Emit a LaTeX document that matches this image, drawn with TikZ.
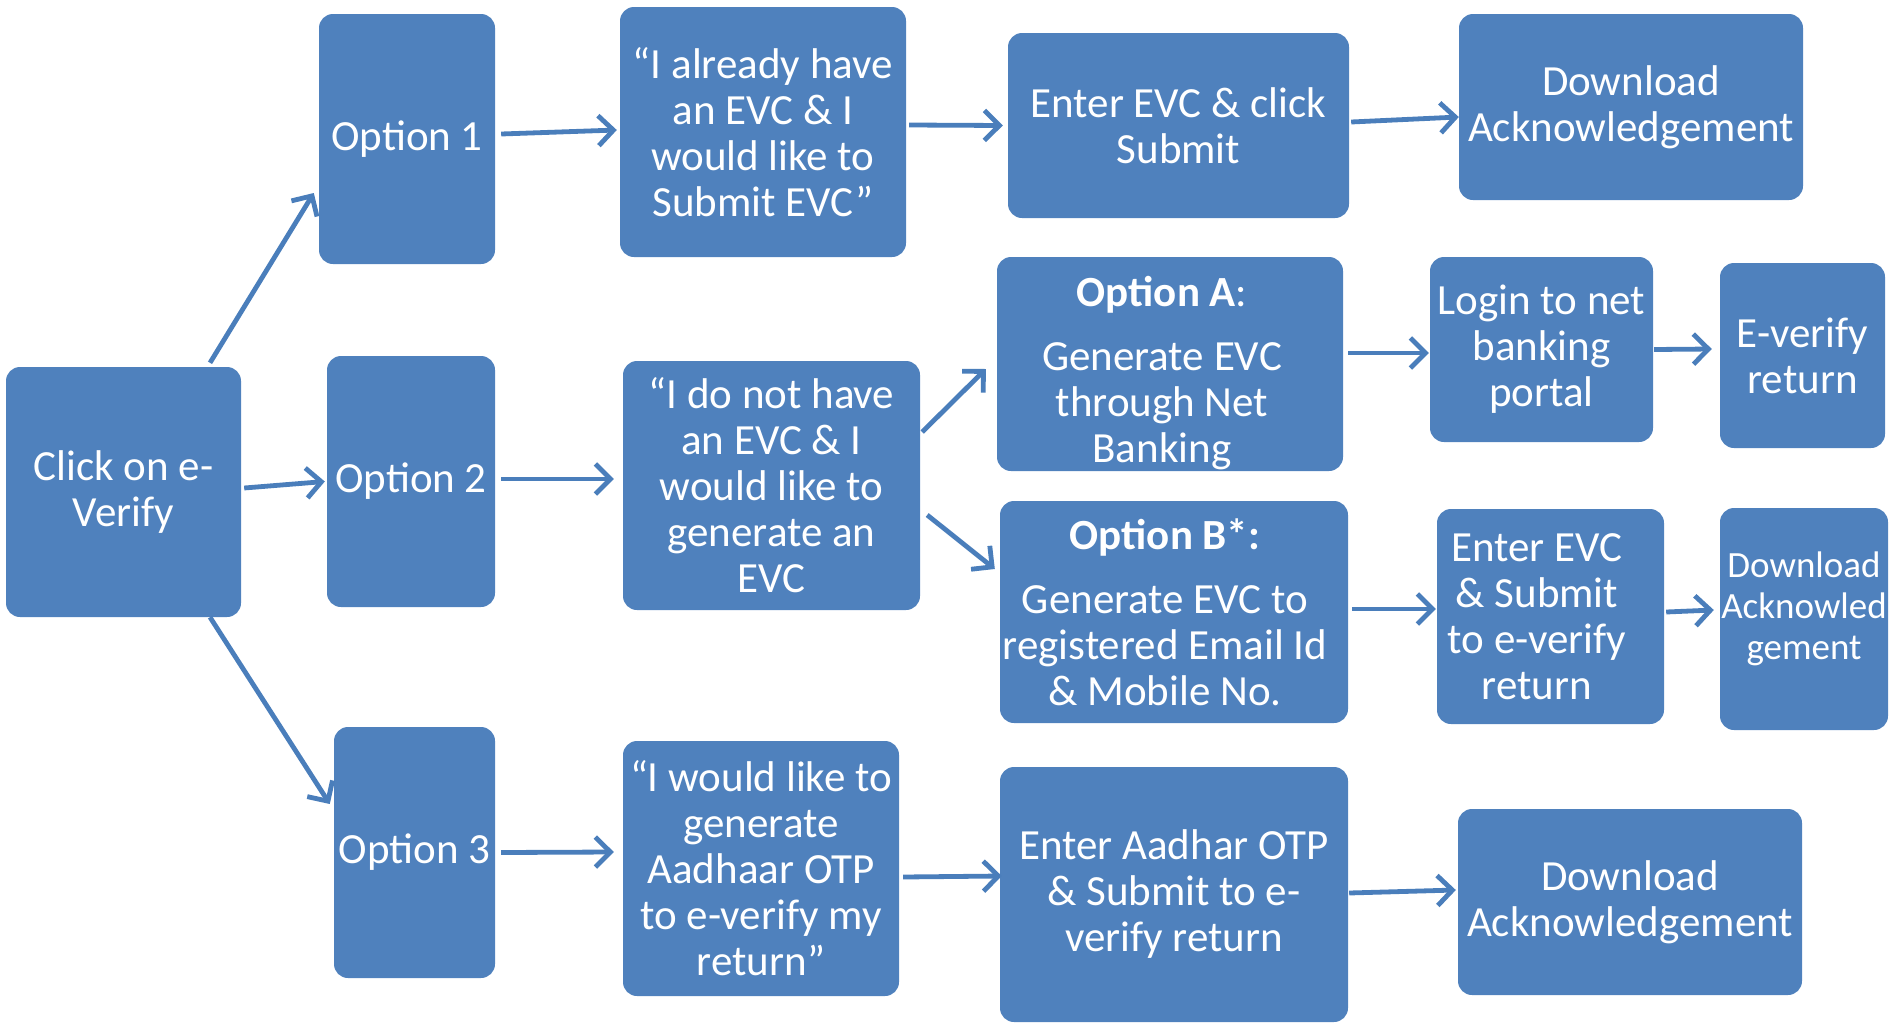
\documentclass[tikz,border=0pt]{standalone}
\usepackage{fontspec}
\setmainfont{Carlito}
\usetikzlibrary{arrows.meta}
\definecolor{accent}{HTML}{4F81BD}
\definecolor{linkblue}{HTML}{4A7EBB}
\tikzset{
  box/.style={fill=accent, rounded corners=14pt, text=white, align=center,
    inner sep=0pt, font=\fontsize{43}{46}\selectfont},
  boxtext/.style={text=white, align=center, inner sep=0pt,
    font=\fontsize{43}{46}\selectfont},
  smalltext/.style={text=white, align=center, inner sep=0pt,
    font=\fontsize{37}{41}\selectfont},
  flow/.style={draw=linkblue, line width=4.8pt,
    -{Straight Barb[length=15pt,width=30pt,line width=4.8pt]}},
}
\begin{document}
\begin{tikzpicture}[x=1pt,y=-1pt]
\useasboundingbox (0,0) rectangle (1891,1023);

% start
\node[box, minimum width=235pt, minimum height=250pt] (click) at (123.5,492) {Click on e-\\Verify};

% the three options
\node[box, minimum width=176pt, minimum height=250pt] (opt1) at (407,139) {Option 1};
\node[box, minimum width=168pt, minimum height=251pt] (opt2) at (411,481.5) {Option 2};
\node[box, minimum width=161pt, minimum height=251pt] (opt3) at (414.5,852.5) {Option 3};

% statements
\node[box, minimum width=286pt, minimum height=250pt] (q1) at (763,132)
  {“I already have\\an EVC \& I\\would like to\\Submit EVC”};
\node[box, minimum width=297pt, minimum height=249pt] (q2) at (771.5,485.5)
  {“I do not have\\an EVC \& I\\would like to\\generate an\\EVC};
\node[box, minimum width=276pt, minimum height=255pt] (q3) at (761,868.5)
  {“I would like to\\generate\\Aadhaar OTP\\to e-verify my\\return”};

% option 1 path
\node[box, minimum width=341pt, minimum height=185pt] (enter1) at (1178.5,125.5) {Enter EVC \& click\\Submit};
\node[box, minimum width=344pt, minimum height=186pt] (dl1) at (1631,107) {Download\\Acknowledgement};

% option 2 paths
\node[box, minimum width=346pt, minimum height=214pt] (optA) at (1170,364) {};
\node[boxtext] (optAtxt) at (1162,373)
  {\textbf{Option A}:\\[18pt]Generate EVC\\through Net\\Banking};
\node[box, minimum width=223pt, minimum height=185pt] (login) at (1541.5,349.5) {Login to net\\banking\\portal};
\node[box, minimum width=165pt, minimum height=185pt] (ever) at (1802.5,355.5) {E-verify\\return};

\node[box, minimum width=348pt, minimum height=222pt] (optB) at (1174,612) {};
\node[boxtext] (optBtxt) at (1165,612)
  {\textbf{Option B*:}\\[18pt]Generate EVC to\\registered Email Id\\\& Mobile No.};
\node[box, minimum width=227pt, minimum height=215pt] (enter2) at (1550.5,616.5) {};
\node[boxtext] (enter2txt) at (1537,616.5) {Enter EVC\\\& Submit\\to e-verify\\return};
\node[box, minimum width=168pt, minimum height=222pt] (dl2) at (1804,619) {};
\node[smalltext] (dl2txt) at (1804,609) {Download\\Acknowled\\gement};

% option 3 path
\node[box, minimum width=348pt, minimum height=255pt] (aadhar) at (1174,894.5)
  {Enter Aadhar OTP\\\& Submit to e-\\verify return};
\node[box, minimum width=344pt, minimum height=186pt] (dl3) at (1630,902) {Download\\Acknowledgement};

% connectors
\draw[flow] ([xshift=86.5pt,yshift=4pt]click.north) -- ([xshift=-5pt,yshift=-54pt]opt1.west);
\draw[flow] ([xshift=3pt,yshift=4pt]click.east) -- ([xshift=-2pt]opt2.west);
\draw[flow] ([xshift=86.5pt]click.south) -- ([xshift=-4pt,yshift=48.5pt]opt3.west);

\draw[flow] ([xshift=6pt,yshift=5pt]opt1.east) -- ([xshift=-3pt,yshift=2pt]q1.west);
\draw[flow] ([xshift=6pt,yshift=2.5pt]opt2.east) -- ([xshift=-9pt,yshift=6.5pt]q2.west);
\draw[flow] ([xshift=6pt]opt3.east) -- ([xshift=-9pt,yshift=16.5pt]q3.west);

\draw[flow] ([xshift=3pt,yshift=7pt]q1.east) -- ([xshift=-5pt]enter1.west);
\draw[flow] ([xshift=2pt,yshift=3.5pt]enter1.east) -- ([yshift=-10pt]dl1.west);

\draw[flow] ([xshift=2pt,yshift=53.5pt]q2.east) -- ([xshift=-11pt,yshift=-5pt]optA.west);
\draw[flow] ([xshift=7pt,yshift=-29.5pt]q2.east) -- ([xshift=-5pt,yshift=43pt]optB.west);

\draw[flow] ([xshift=5pt,yshift=11pt]optA.east) -- ([xshift=-1pt,yshift=-3.5pt]login.west);
\draw[flow] ([xshift=1pt]login.east) -- ([xshift=-8pt,yshift=6.5pt]ever.west);

\draw[flow] ([xshift=4pt,yshift=3pt]optB.east) -- ([xshift=-1pt,yshift=7.5pt]enter2.west);
\draw[flow] ([xshift=2pt,yshift=4.5pt]enter2.east) -- ([xshift=-6pt,yshift=9pt]dl2.west);

\draw[flow] ([xshift=4pt,yshift=-8.5pt]q3.east) -- ([xshift=2pt,yshift=18.5pt]aadhar.west);
\draw[flow] ([xshift=1pt,yshift=1.5pt]aadhar.east) -- ([xshift=-2pt,yshift=12pt]dl3.west);
\end{tikzpicture}
\end{document}
